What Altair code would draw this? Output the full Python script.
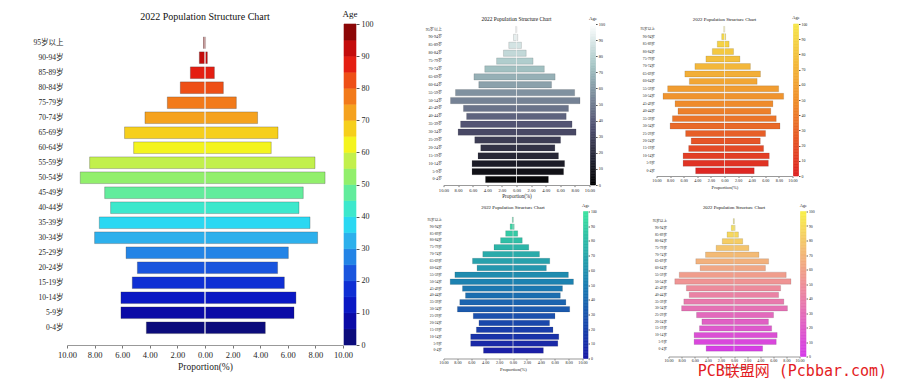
import altair as alt
import pandas as pd

SERIF = "Times New Roman, Liberation Serif, Noto Sans CJK SC"
MARK_FONT = "DejaVu Sans Mono, Noto Sans CJK SC"

TITLE = "2022 Population Structure Chart"
X_TITLE = "Proportion(%)"
CB_TITLE = "Age"
WATERMARK = "PCB联盟网 (Pcbbar.com)"

GROUPS = ["0-4岁", "5-9岁", "10-14岁", "15-19岁", "20-24岁", "25-29岁", "30-34岁",
          "35-39岁", "40-44岁", "45-49岁", "50-54岁", "55-59岁", "60-64岁", "65-69岁",
          "70-74岁", "75-79岁", "80-84岁", "85-89岁", "90-94岁", "95岁以上"]
AGE_MID = [2.5, 7.5, 12.5, 17.5, 22.5, 27.5, 32.5, 37.5, 42.5, 47.5,
           52.5, 57.5, 62.5, 67.5, 72.5, 77.5, 82.5, 87.5, 92.5, 97.5]
LEFT_PCT = [4.25, 6.09, 6.09, 5.27, 4.90, 5.72, 8.00, 7.66, 6.84, 7.27,
            9.04, 8.36, 5.17, 5.83, 4.35, 2.73, 1.79, 1.06, 0.41, 0.10]
RIGHT_PCT = [4.37, 6.45, 6.59, 5.75, 5.26, 6.04, 8.16, 7.61, 6.81, 7.12,
             8.70, 7.97, 4.80, 5.29, 3.81, 2.27, 1.33, 0.68, 0.17, 0.04]

X_TICKS = [-10, -8, -6, -4, -2, 0, 2, 4, 6, 8, 10]
AGE_TICKS = [0, 10, 20, 30, 40, 50, 60, 70, 80, 90, 100]
CENTRE = [0]

# main colour bar: 20 discrete bands of 5 years
MAIN_STEPS = [0, 5, 10, 15, 20, 25, 30, 35, 40, 45, 50, 55, 60, 65, 70, 75, 80, 85, 90, 95]
MAIN_BREAKS = [5, 10, 15, 20, 25, 30, 35, 40, 45, 50, 55, 60, 65, 70, 75, 80, 85, 90, 95]
MAIN_COLORS = ["#0c0c7c", "#0a0aa6", "#0a18c4", "#0f2fd4", "#1a55de", "#2384e6", "#2db0ec",
               "#2ad8f2", "#3de8cc", "#62ec9c", "#92ef6c", "#c2f04c", "#f4f41e", "#f6cf1c",
               "#f5a21e", "#f27a1a", "#ee4f16", "#e41e12", "#c40c0c", "#8c0606"]
# smooth colour bars of the four small charts: 1-year steps
FINE_STEPS = list(range(0, 100))

BONE_STOPS = [0, 36.5, 74.6, 100]
BONE_COLORS = ["#000000", "#515171", "#a6c6c6", "#ffffff"]
AUTUMN_STOPS = [0, 50, 100]
AUTUMN_COLORS = ["#dd2222", "#f0902c", "#f6e64c"]
WINTER_STOPS = [0, 50, 100]
WINTER_COLORS = ["#1a1aa6", "#1b7db2", "#3ce3a0"]
SPRING_STOPS = [0, 50, 100]
SPRING_COLORS = ["#d53ae8", "#ee8f98", "#f8ef4a"]

rows = []
for g, m, l, r in zip(GROUPS, AGE_MID, LEFT_PCT, RIGHT_PCT):
    rows.append({"group": g, "mid": m, "start": 0.0, "end": -l})
    rows.append({"group": g, "mid": m, "start": 0.0, "end": r})
bars_df = pd.DataFrame(rows)
centre_df = pd.DataFrame({"x": CENTRE})


def steps_df(steps, size):
    return pd.DataFrame({"lo": steps,
                         "hi": [s + size for s in steps],
                         "mid": [s + size / 2 for s in steps]})


def pyramid(scale, w, h, k, title_offset, label_pad, p_inner, p_outer, band_align):
    bars = alt.Chart(bars_df).mark_bar(
        stroke="#2a2a2a", strokeWidth=0.6 * k, strokeOpacity=0.45
    ).encode(
        y=alt.Y("group:N", sort=GROUPS[::-1],
                scale=alt.Scale(paddingInner=p_inner, paddingOuter=p_outer, align=band_align),
                axis=alt.Axis(title=None, domain=False, ticks=False, labelFont=SERIF,
                              labelFontSize=7.5 * k, labelColor="#1e1e1e",
                              labelPadding=label_pad)),
        x=alt.X("start:Q", scale=alt.Scale(domain=[-10, 10], nice=False, zero=False),
                axis=alt.Axis(values=X_TICKS, tickCount=len(X_TICKS),
                              labelExpr="format(abs(datum.value), '.2f')",
                              title=X_TITLE, titleFont=SERIF, titleFontSize=9.5 * k,
                              titleFontWeight="normal", titleColor="#1e1e1e",
                              titlePadding=3 * k, labelFont=SERIF, labelFontSize=8.5 * k,
                              labelColor="#1e1e1e", labelPadding=2 * k, tickSize=3 * k,
                              tickColor="#777777", domainColor="#999999", grid=False,
                              labelFlush=False, labelOverlap=False)),
        x2="end:Q",
        color=alt.Color("mid:Q", scale=scale, legend=None),
    )
    centre = alt.Chart(centre_df).mark_rule(
        color="white", strokeWidth=max(0.6, 1.2 * k)
    ).encode(x=alt.datum(CENTRE[0]))
    return alt.layer(bars, centre).properties(
        width=w, height=h,
        title=alt.TitleParams(TITLE, font=SERIF, fontSize=10 * k, fontWeight="normal",
                              color="#111111", anchor="middle", frame="group",
                              offset=title_offset))


def colorbar(df, scale, w, h, k, title_offset):
    return alt.Chart(df).mark_rect(strokeWidth=0.6).encode(
        y=alt.Y("lo:Q", scale=alt.Scale(domain=[0, 100], nice=False, zero=False),
                axis=alt.Axis(orient="right", values=AGE_TICKS, tickCount=len(AGE_TICKS),
                              title=None, grid=False,
                              domain=False, tickSize=3 * k, tickColor="#555555",
                              labelFont=SERIF, labelFontSize=8 * k, labelColor="#1e1e1e",
                              labelPadding=2 * k, labelFlush=False, labelOverlap=False)),
        y2="hi:Q",
        color=alt.Color("mid:Q", scale=scale, legend=None),
        stroke=alt.Stroke("mid:Q", scale=scale, legend=None),
    ).properties(
        width=w, height=h,
        title=alt.TitleParams(CB_TITLE, font=SERIF, fontSize=9 * k, fontWeight="normal",
                              color="#111111", anchor="middle", frame="group",
                              offset=title_offset))


RES = dict(x="independent", y="independent", color="independent", stroke="independent")


def block(scale, steps, size, w, h, cbw, k, title_offset, label_pad,
          p_inner, p_outer, band_align):
    return alt.hconcat(
        pyramid(scale, w, h, k, title_offset, label_pad, p_inner, p_outer, band_align),
        colorbar(steps_df(steps, size), scale, cbw, h, k, title_offset),
        spacing=1, bounds="flush"
    ).resolve_scale(**RES)


main_scale = alt.Scale(type="threshold", domain=MAIN_BREAKS, range=MAIN_COLORS)
bone = alt.Scale(domain=BONE_STOPS, range=BONE_COLORS, interpolate="rgb")
autumn = alt.Scale(domain=AUTUMN_STOPS, range=AUTUMN_COLORS, interpolate="rgb")
winter = alt.Scale(domain=WINTER_STOPS, range=WINTER_COLORS, interpolate="rgb")
spring = alt.Scale(domain=SPRING_STOPS, range=SPRING_COLORS, interpolate="rgb")

main_block = block(main_scale, MAIN_STEPS, 5, 276, 321, 12, 1.0, 1.5, 4, 0.22, 0.81, 0.53)
gray_block = block(bone, FINE_STEPS, 1, 146, 161, 5, 0.54, 1.5, 2, 0.2, 0.3, 0.5)
orange_block = block(autumn, FINE_STEPS, 1, 136, 152, 5, 0.49, 1.5, 2, 0.2, 0.3, 0.5)
teal_block = block(winter, FINE_STEPS, 1, 139, 147, 4.5, 0.49, 1.5, 2, 0.2, 0.785, 0.51)
pink_block = block(spring, FINE_STEPS, 1, 131, 145, 5.5, 0.48, 1.5, 2, 0.2, 0.92, 0.57)

top_row = alt.concat(gray_block, orange_block, columns=2, spacing=34,
                     align="none").resolve_scale(**RES)
bottom_row = alt.concat(teal_block, pink_block, columns=2, spacing=55,
                        align="none").resolve_scale(**RES)
right_col = alt.concat(top_row, bottom_row, columns=1, spacing=2.5,
                       align="none").resolve_scale(**RES)

chart = alt.concat(main_block, right_col, columns=2, spacing=51.5,
                   align="none").resolve_scale(**RES).properties(
    title=alt.TitleParams(WATERMARK, orient="bottom", anchor="end", font=MARK_FONT,
                          fontSize=15, fontWeight="normal", color="#e31b23",
                          offset=-7, dx=73),
    padding={"left": 25, "top": 1, "right": 0, "bottom": 0},
    background="white",
).configure_view(stroke=None).configure_axis(labelOverlap=False)

chart.save("out.html", embed_options={"renderer": "svg", "actions": False})
